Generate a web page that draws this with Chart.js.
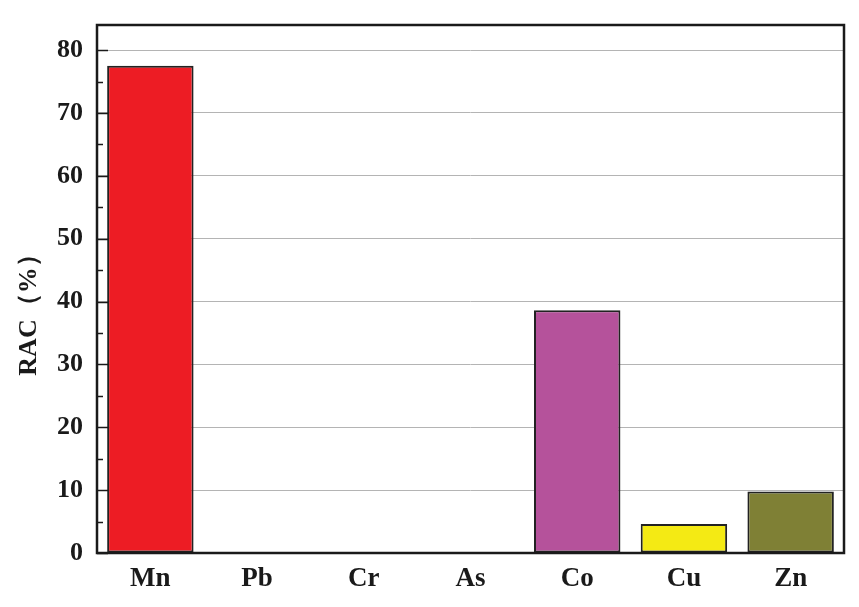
<!DOCTYPE html>
<html>
<head>
<meta charset="utf-8">
<script src="https://cdn.jsdelivr.net/npm/chart.js@4"></script>
<style>
  html, body { margin: 0; padding: 0; background: #fff; }
  #wrap { width: 859px; height: 607px; }
</style>
</head>
<body>
<div id="wrap"><canvas id="racChart" width="859" height="607"></canvas></div>
<script>
// RAC values per element (%)
const elements = ['Mn', 'Pb', 'Cr', 'As', 'Co', 'Cu', 'Zn']
const racValues = [77.5, 0, 0, 0, 38.6, 4.6, 9.8]
const barColors = ['#ED1C24', '#FFFFFF', '#FFFFFF', '#FFFFFF', '#B5529B', '#F4EA14', '#7F8035']
const yTicks = [0, 10, 20, 30, 40, 50, 60, 70, 80]
const yMax = 84

const serif = '"Liberation Serif", "Times New Roman", serif'

// frame round the plot plus inward major / minor ticks
const framePlugin = {
    id: 'frame',
    afterDraw(chart) {
        const { ctx, chartArea: a, scales } = chart
        const y = scales.y
        ctx.save()
        ctx.strokeStyle = '#1a1a1a'
        ctx.lineWidth = 1.5
        for (let v = 0; v <= 80; v += 5) {
            const py = Math.round(y.getPixelForValue(v)) + 0.5
            const len = v % 10 === 0 ? 11 : 6
            ctx.beginPath()
            ctx.moveTo(a.left, py)
            ctx.lineTo(a.left + len, py)
            ctx.stroke()
        }
        ctx.lineWidth = 2.5
        ctx.strokeRect(a.left, a.top, a.right - a.left, a.bottom - a.top)
        ctx.restore()
    }
}

const ctx = document.getElementById('racChart').getContext('2d')
new Chart(ctx, {
    type: 'bar',
    data: {
        labels: elements,
        datasets: [{
            label: 'RAC',
            data: racValues,
            backgroundColor: barColors,
            borderColor: '#222222',
            borderWidth: 2,
            borderSkipped: false,
            barPercentage: 0.81,
            categoryPercentage: 1.0
        }]
    },
    options: {
        responsive: false,
        animation: false,
        layout: { padding: { top: 25, right: 15, left: 0, bottom: 0 } },
        plugins: {
            legend: { display: false },
            tooltip: { enabled: false }
        },
        scales: {
            x: {
                grid: { display: false, drawTicks: false },
                border: { display: false },
                ticks: {
                    color: '#1a1a1a',
                    padding: 10,
                    font: { family: serif, size: 27, weight: 'bold' }
                },
                afterFit(scale) { scale.height = 54 }
            },
            y: {
                min: 0,
                max: yMax,
                afterBuildTicks(scale) {
                    scale.ticks = yTicks.map(v => ({ value: v }))
                },
                grid: {
                    color: '#b4b4b4',
                    lineWidth: 1,
                    drawTicks: false
                },
                border: { display: false },
                ticks: {
                    color: '#1a1a1a',
                    padding: 14,
                    font: { family: serif, size: 26, weight: 'bold' }
                },
                title: {
                    display: true,
                    text: 'RAC（%）\u2003\u2002',
                    color: '#1a1a1a',
                    padding: { top: 14, bottom: 0 },
                    font: { family: serif, size: 26, weight: 'bold' }
                },
                afterFit(scale) {
                    scale.width = 97
                    scale.paddingTop = 0
                    scale.paddingBottom = 0
                }
            }
        }
    },
    plugins: [framePlugin]
})
</script>
</body>
</html>
